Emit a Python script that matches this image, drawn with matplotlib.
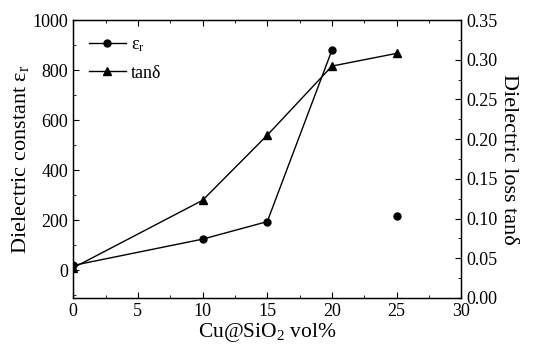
import matplotlib
matplotlib.use("Agg")
import matplotlib.pyplot as plt
from matplotlib.ticker import MultipleLocator

plt.rcParams['font.family'] = ['Liberation Serif', 'DejaVu Serif']
plt.rcParams['mathtext.fontset'] = 'custom'
plt.rcParams['mathtext.rm'] = 'Liberation Serif'
plt.rcParams['mathtext.it'] = 'Liberation Serif'

# data
vol = [0, 10, 15, 20]
eps = [20, 125, 195, 880]
vol_extra = [25]
eps_extra = [218]
vol_tan = [0, 10, 15, 20, 25]
tan_d = [0.038, 0.123, 0.205, 0.292, 0.308]

fig = plt.figure(figsize=(5.34, 3.51), dpi=100)
ax = fig.add_axes([0.137, 0.151, 0.727, 0.792])
ax2 = ax.twinx()

l1, = ax.plot(vol, eps, '-o', color='black', lw=1, ms=5)
ax.plot(vol_extra, eps_extra, 'o', color='black', ms=5)
l2, = ax2.plot(vol_tan, tan_d, '-^', color='black', lw=1, ms=5.5)

ax.set_xlim(0, 30)
ax.set_ylim(-110, 1000)
ax2.set_ylim(0, 0.35)

ax.xaxis.set_major_locator(MultipleLocator(5))
ax.xaxis.set_minor_locator(MultipleLocator(2.5))
ax.yaxis.set_major_locator(MultipleLocator(200))
ax.yaxis.set_minor_locator(MultipleLocator(100))
ax2.yaxis.set_major_locator(MultipleLocator(0.05))
ax2.yaxis.set_minor_locator(MultipleLocator(0.025))
ax2.yaxis.set_major_formatter(matplotlib.ticker.FormatStrFormatter('%.2f'))

ax.tick_params(which='both', direction='in', top=True, labelsize=13)
ax.tick_params(which='major', length=4)
ax.tick_params(which='minor', length=2.5)
ax2.tick_params(which='both', direction='in', labelsize=13)
ax2.tick_params(which='major', length=4)
ax2.tick_params(which='minor', length=2.5)

ax.set_xlabel('Cu@SiO$_2$ vol%', fontsize=15.5, labelpad=1)
ax.set_ylabel('Dielectric constant ε$_\\mathrm{r}$', fontsize=16, labelpad=1)
ax2.set_ylabel('Dielectric loss tanδ', fontsize=16, rotation=270, labelpad=15)

ax.legend([l1, l2], ['ε$_\\mathrm{r}$', 'tanδ'], loc='upper left', frameon=False,
          fontsize=13, handlelength=2.0, handletextpad=0.3,
          borderaxespad=0.5, labelspacing=0.6)

for s in ax.spines.values():
    s.set_linewidth(1)

fig.savefig('out.png', dpi=100)
